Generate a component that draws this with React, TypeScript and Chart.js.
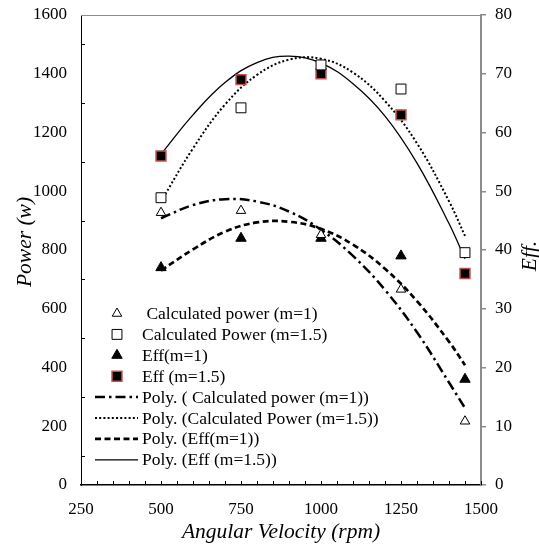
import React, { useEffect, useRef } from "react";
import { Chart, registerables } from "chart.js";

Chart.register(...registerables);

// ---- data ----
const speeds = [500, 750, 1000, 1250, 1450];
const calcPowerM1 = [927, 934, 852, 666, 217];
const calcPowerM15 = [978, 1284, 1430, 1348, 791];
const effM1 = [37, 42, 42, 39, 18];
const effM15 = [56, 69, 70, 63, 36];

const trendX = [500, 600, 700, 800, 900, 1000, 1100, 1200, 1300, 1400, 1450];
const trendCalcM1 = [908, 953, 973, 965, 931, 869, 780, 664, 520, 349, 262];
const trendCalcM15 = [965, 1146, 1295, 1396, 1448, 1451, 1404, 1307, 1163, 966, 848];
const trendEffM1 = [36.5, 40.1, 43.1, 44.7, 44.8, 43.6, 40.9, 36.8, 31.3, 24.4, 20.4];
const trendEffM15 = [56.3, 63.0, 68.5, 71.9, 73.0, 71.8, 68.3, 62.8, 54.8, 44.5, 38.5];

const xTicksMin = 250;
const xTicksMax = 1500;
const powerMax = 1600;
const effMax = 80;

const legendLabels = [
  " Calculated power (m=1)",
  "Calculated Power (m=1.5)",
  "Eff(m=1)",
  "Eff (m=1.5)",
  "Poly. ( Calculated power (m=1))",
  "Poly. (Calculated Power (m=1.5))",
  "Poly. (Eff(m=1))",
  "Poly. (Eff (m=1.5))",
];

const xTitle = "Angular Velocity (rpm)";
const yTitle = "Power (w)";
const y1Title = "Eff.";

const FONT = "'Liberation Serif', 'Times New Roman', serif";
const RED = "#c0504d";

const pts = (ys: number[]) => speeds.map((x, i) => ({ x, y: ys[i] }));
const trend = (ys: number[]) => trendX.map((x, i) => ({ x, y: ys[i] }));

type Marker = { kind: "marker"; shape: "triangle" | "rect"; r: number; fill: string; stroke: string; lw: number };
type LineSym = { kind: "line"; dash: number[]; lw: number };

const legendSymbols: (Marker | LineSym)[] = [
  { kind: "marker", shape: "triangle", r: 5.5, fill: "#fff", stroke: "#000", lw: 1 },
  { kind: "marker", shape: "rect", r: 7, fill: "#fff", stroke: "#000", lw: 1 },
  { kind: "marker", shape: "triangle", r: 6, fill: "#000", stroke: "#000", lw: 1 },
  { kind: "marker", shape: "rect", r: 7, fill: "#000", stroke: RED, lw: 1.5 },
  { kind: "line", dash: [10, 4, 2.5, 4], lw: 2.5 },
  { kind: "line", dash: [2, 2.2], lw: 2 },
  { kind: "line", dash: [6, 3.5], lw: 2.7 },
  { kind: "line", dash: [], lw: 1.3 },
];

function drawMarker(ctx: CanvasRenderingContext2D, m: Marker, x: number, y: number) {
  ctx.save();
  ctx.beginPath();
  if (m.shape === "triangle") {
    for (let k = 0; k < 3; k++) {
      const a = (k * 2 * Math.PI) / 3;
      const px = x + Math.sin(a) * m.r;
      const py = y - Math.cos(a) * m.r;
      if (k === 0) ctx.moveTo(px, py);
      else ctx.lineTo(px, py);
    }
    ctx.closePath();
  } else {
    const s = Math.SQRT1_2 * m.r;
    ctx.rect(x - s, y - s, 2 * s, 2 * s);
  }
  ctx.fillStyle = m.fill;
  ctx.fill();
  ctx.lineWidth = m.lw;
  ctx.strokeStyle = m.stroke;
  ctx.stroke();
  ctx.restore();
}

const decorPlugin = {
  id: "decor",
  afterDraw(chart: any) {
    const { ctx, chartArea: ca, scales } = chart;
    const xs = scales.x;
    const ys = scales.y;
    ctx.save();
    // top border
    ctx.strokeStyle = "#8c8c8c";
    ctx.lineWidth = 1;
    ctx.beginPath();
    ctx.moveTo(ca.left, ca.top + 0.5);
    ctx.lineTo(ca.right, ca.top + 0.5);
    ctx.stroke();

    // minor ticks on x axis (inside)
    ctx.strokeStyle = "#000";
    ctx.lineWidth = 1;
    for (let v = xTicksMin; v <= xTicksMax; v += 50) {
      const px = Math.round(xs.getPixelForValue(v)) + 0.5;
      ctx.beginPath();
      ctx.moveTo(px, ca.bottom);
      ctx.lineTo(px, ca.bottom - 4);
      ctx.stroke();
    }
    // minor ticks on left axis (inside)
    for (let v = 100; v < powerMax; v += 200) {
      const py = Math.round(ys.getPixelForValue(v)) + 0.5;
      ctx.beginPath();
      ctx.moveTo(ca.left, py);
      ctx.lineTo(ca.left + 4, py);
      ctx.stroke();
    }

    // titles
    ctx.fillStyle = "#000";
    ctx.font = `italic 21.5px ${FONT}`;
    ctx.textAlign = "center";
    ctx.textBaseline = "alphabetic";
    ctx.fillText(xTitle, (ca.left + ca.right) / 2, 538);

    ctx.save();
    ctx.translate(31, 242);
    ctx.rotate(-Math.PI / 2);
    ctx.fillText(yTitle, 0, 0);
    ctx.restore();

    ctx.save();
    ctx.translate(536, 256);
    ctx.rotate(-Math.PI / 2);
    ctx.fillText(y1Title, 0, 0);
    ctx.restore();

    // legend
    ctx.font = `17.5px ${FONT}`;
    ctx.textAlign = "left";
    const x0 = ca.left + 14;
    const x1 = ca.left + 57;
    const mx = ca.left + 36;
    const tx = ca.left + 61;
    legendLabels.forEach((label, i) => {
      const yy = 313.5 + i * 20.9;
      const sym = legendSymbols[i];
      if (sym.kind === "marker") {
        drawMarker(ctx, sym, mx, yy);
      } else {
        ctx.save();
        ctx.strokeStyle = "#000";
        ctx.lineWidth = sym.lw;
        ctx.setLineDash(sym.dash);
        ctx.beginPath();
        ctx.moveTo(x0, yy);
        ctx.lineTo(x1, yy);
        ctx.stroke();
        ctx.restore();
      }
      ctx.fillStyle = "#000";
      ctx.fillText(label, tx, yy + 5.5);
    });
    ctx.restore();
  },
};

const plain = (v: any) => String(v);
const noPad = (s: any) => {
  s.paddingTop = 0;
  s.paddingBottom = 0;
  s.paddingLeft = 0;
  s.paddingRight = 0;
};

export default function App() {
  const ref = useRef<HTMLCanvasElement>(null);
  useEffect(() => {
    document.body.style.margin = "0";
    const tickFont = { family: FONT, size: 17 };
    const chart = new Chart(ref.current as HTMLCanvasElement, {
      type: "line",
      data: {
        datasets: [
          {
            label: legendLabels[0],
            data: pts(calcPowerM1),
            yAxisID: "y",
            showLine: false,
            pointStyle: "triangle",
            pointRadius: 5.5,
            pointBackgroundColor: "#fff",
            pointBorderColor: "#000",
            pointBorderWidth: 1,
          },
          {
            label: legendLabels[1],
            data: pts(calcPowerM15),
            yAxisID: "y",
            showLine: false,
            pointStyle: "rect",
            pointRadius: 7,
            pointBackgroundColor: "#fff",
            pointBorderColor: "#000",
            pointBorderWidth: 1,
          },
          {
            label: legendLabels[2],
            data: pts(effM1),
            yAxisID: "y1",
            showLine: false,
            pointStyle: "triangle",
            pointRadius: 6,
            pointBackgroundColor: "#000",
            pointBorderColor: "#000",
            pointBorderWidth: 1,
          },
          {
            label: legendLabels[3],
            data: pts(effM15),
            yAxisID: "y1",
            showLine: false,
            pointStyle: "rect",
            pointRadius: 7,
            pointBackgroundColor: "#000",
            pointBorderColor: RED,
            pointBorderWidth: 1.5,
          },
          {
            label: legendLabels[4],
            data: trend(trendCalcM1),
            yAxisID: "y",
            pointRadius: 0,
            borderColor: "#000",
            borderWidth: 2.5,
            borderDash: [10, 4, 2.5, 4],
            tension: 0.4,
            fill: false,
          },
          {
            label: legendLabels[5],
            data: trend(trendCalcM15),
            yAxisID: "y",
            pointRadius: 0,
            borderColor: "#000",
            borderWidth: 2,
            borderDash: [2, 2.2],
            tension: 0.4,
            fill: false,
          },
          {
            label: legendLabels[6],
            data: trend(trendEffM1),
            yAxisID: "y1",
            pointRadius: 0,
            borderColor: "#000",
            borderWidth: 2.7,
            borderDash: [6, 3.5],
            tension: 0.4,
            fill: false,
          },
          {
            label: legendLabels[7],
            data: trend(trendEffM15),
            yAxisID: "y1",
            pointRadius: 0,
            borderColor: "#000",
            borderWidth: 1.3,
            tension: 0.4,
            fill: false,
          },
        ],
      },
      options: {
        responsive: false,
        animation: false,
        events: [],
        layout: { padding: { top: 15, left: 0, right: 0, bottom: 0 } },
        plugins: { legend: { display: false }, tooltip: { enabled: false } },
        scales: {
          x: {
            type: "linear",
            min: xTicksMin,
            max: xTicksMax,
            ticks: { stepSize: 250, font: tickFont, color: "#000", padding: 14, callback: plain },
            grid: { display: false, drawTicks: false },
            border: { color: "#000", width: 1.5 },
            afterFit: (s: any) => {
              s.height = 61;
              noPad(s);
            },
          },
          y: {
            position: "left",
            min: 0,
            max: powerMax,
            ticks: { stepSize: 200, font: tickFont, color: "#000", padding: 14, callback: plain },
            grid: { display: false, drawTicks: false },
            border: { color: "#000", width: 1 },
            afterFit: (s: any) => {
              s.width = 81;
              noPad(s);
            },
          },
          y1: {
            position: "right",
            min: 0,
            max: effMax,
            ticks: { stepSize: 10, font: tickFont, color: "#000", padding: 9, callback: plain },
            grid: { display: true, drawOnChartArea: false, drawTicks: true, tickLength: 5, color: "#8c8c8c", lineWidth: 1.5 },
            border: { color: "#8c8c8c", width: 2 },
            afterFit: (s: any) => {
              s.width = 58;
              noPad(s);
            },
          },
        },
      },
      plugins: [decorPlugin],
    } as any);
    return () => chart.destroy();
  }, []);
  return (
    <div style={{ width: 539, height: 546 }}>
      <canvas ref={ref} width={539} height={546} style={{ display: "block", width: 539, height: 546 }} />
    </div>
  );
}
